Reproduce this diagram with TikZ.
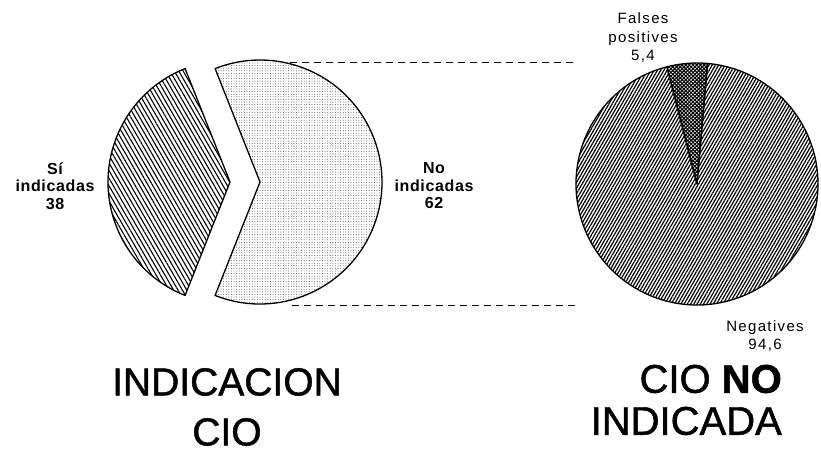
\documentclass[tikz,border=0pt]{standalone}
\usepackage{fontspec}
\setmainfont{Liberation Sans}
\usetikzlibrary{patterns.meta}

\begin{document}
\begin{tikzpicture}[x=1pt,y=1pt,
	pieslice/.style={draw=black,line width=1.3pt,line join=round},
	guide/.style={dash pattern=on 7pt off 5pt,line width=0.9pt},
	boldtag/.style={align=center,inner sep=0pt,font=\fontsize{16}{17.5}\selectfont\bfseries\addfontfeature{LetterSpace=4}},
	thintag/.style={align=center,inner sep=0pt,font=\fontsize{15}{18.5}\selectfont\addfontfeature{LetterSpace=9}},
	headtext/.style={inner sep=0pt,font=\fontsize{39}{50}\selectfont\addfontfeature{FakeBold=1.2}}] 
	\useasboundingbox (0,0) rectangle (821,453);
	\coordinate (c_no) at (260,271);
	\coordinate (c_si) at (230,271);
	\coordinate (c_neg) at (697,269);

	% left pie
	\draw[pieslice,pattern={Dots[distance=2.6pt,radius=0.45pt]},pattern color=black!75] (c_no) -- ++(-111.6:122) arc[start angle=-111.6,end angle=111.6,radius=122] -- cycle;
	\draw[pieslice,pattern={Lines[angle=-60,distance=3.8pt,line width=1.1pt]}] (c_si) -- ++(111.6:122) arc[start angle=111.6,end angle=248.4,radius=122] -- cycle;

	% right pie
	\draw[pieslice,pattern={Lines[angle=60,distance=2.8pt,line width=1.2pt]}] (c_neg) -- ++(104.4:121) arc[start angle=104.4,end angle=445,radius=121] -- cycle;
	\draw[pieslice,pattern={Hatch[angle=45,distance=2.6pt,line width=1.1pt]}] (c_neg) -- ++(85:121) arc[start angle=85,end angle=104.4,radius=121] -- cycle;

	\coordinate (l_top) at (290,391);
	\coordinate (r_top) at (576,391);
	\coordinate (l_bot) at (292,148);
	\coordinate (r_bot) at (578,148);
	\draw[guide] (l_top) -- (r_top);
	\draw[guide] (l_bot) -- (r_bot);

	\node[boldtag] (si) at (55,267) {Sí\\indicadas\\38};
	\node[boldtag] (no) at (434,267) {No\\indicadas\\62};
	\node[thintag] (fp) at (643,415) {Falses\\positives\\5,4};
	\node[thintag] (neg) at (765,117) {Negatives\\94,6};

	\node[headtext,align=center] (t_left) at (227,46) {INDICACION\\CIO};
	\node[headtext,align=right,anchor=east,font=\fontsize{40}{42}\selectfont\addfontfeature{FakeBold=1.2}] (t_right) at (782,53) {CIO \textbf{NO}\\INDICADA};
\end{tikzpicture}
\end{document}
